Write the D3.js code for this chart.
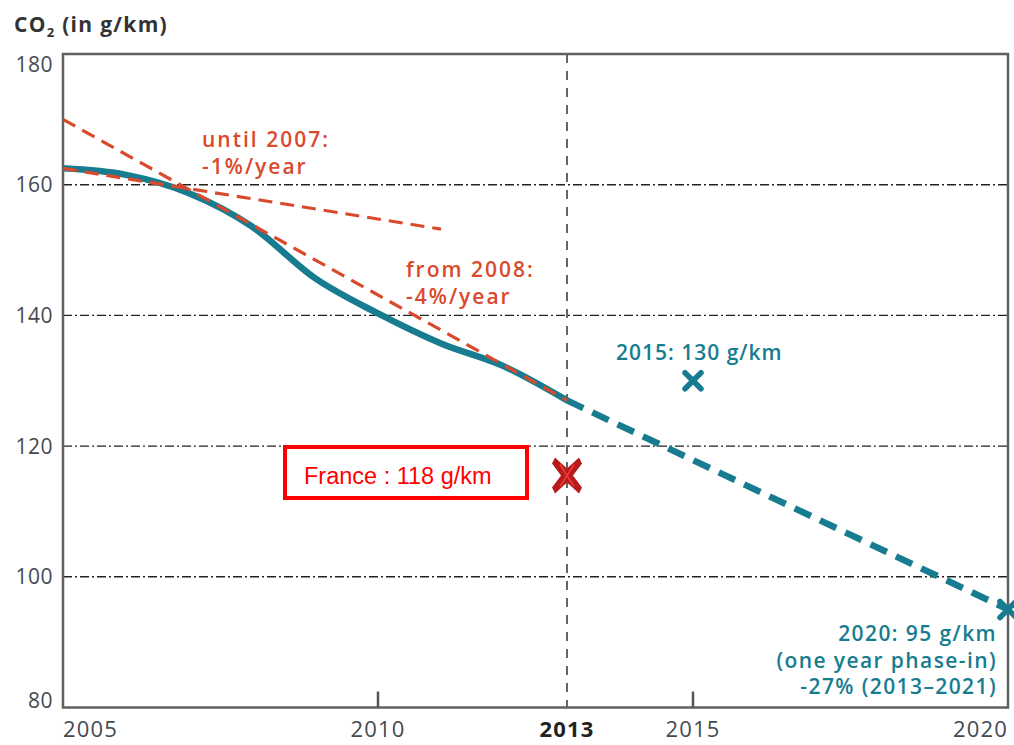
<!DOCTYPE html>
<html>
<head>
<meta charset="utf-8">
<script src="https://cdn.jsdelivr.net/npm/d3@7"></script>
<style>
  body { margin: 0; background: #fff; }
  svg text { font-family: "Open Sans", "DejaVu Sans", sans-serif; }
</style>
</head>
<body>
<svg id="chart"></svg>
<script>
// data
var years      = [2005, 2006, 2007, 2008, 2009, 2010, 2011, 2012, 2013];
var emissions  = [162.5, 161.5, 158.7, 153.6, 145.7, 140.3, 135.7, 132.2, 127.0];
var targetYears = [2013, 2020];
var targetVals  = [127.0, 95.0];
var trendOld   = [[2005, 162.5], [2011, 153.2]];   // until 2007: -1%/year
var trendNew   = [[2005, 170.0], [2013, 127.0]];   // from 2008: -4%/year
var targets    = [[2015, 130], [2020, 95]];
var france     = [2013, 115.5];
var yTicks     = [80, 100, 120, 140, 160, 180];
var gridVals   = [100, 120, 140, 160];
var xTicks     = [2005, 2010, 2013, 2015, 2020];

var W = 1014, H = 745;
var m = {left: 63, right: 1008, top: 54, bottom: 707.5};
var teal = "#187c90", red = "#d94a2c", grey = "#444a50";

var svg = d3.select("#chart").attr("width", W).attr("height", H);

var x = d3.scaleLinear().domain([2005, 2020]).range([m.left, m.right]);
var y = d3.scaleLinear().domain([80, 180]).range([m.bottom, m.top]);

// grid lines (dash-dot)
svg.append("g").selectAll("line").data(gridVals).enter().append("line")
    .attr("x1", m.left).attr("x2", m.right)
    .attr("y1", d => y(d)).attr("y2", d => y(d))
    .attr("stroke", "#222").attr("stroke-width", 1.4)
    .attr("stroke-dasharray", "9,3,2,3");

// 2013 vertical dashed marker
svg.append("line")
    .attr("x1", x(2013)).attr("x2", x(2013))
    .attr("y1", m.top).attr("y2", m.bottom)
    .attr("stroke", "#333").attr("stroke-width", 1.5)
    .attr("stroke-dasharray", "9,8");

// frame
svg.append("rect")
    .attr("x", m.left).attr("y", m.top)
    .attr("width", m.right - m.left).attr("height", m.bottom - m.top)
    .attr("fill", "none").attr("stroke", "#606060").attr("stroke-width", 2.5);

// small ticks on the bottom
svg.append("g").selectAll("line").data([2010, 2015]).enter().append("line")
    .attr("x1", d => x(d)).attr("x2", d => x(d))
    .attr("y1", m.bottom).attr("y2", m.bottom - 16)
    .attr("stroke", "#555").attr("stroke-width", 2.5);

// y labels (kept inside the frame height at the ends)
svg.append("g").selectAll("text").data(yTicks).enter().append("text")
    .attr("x", 53)
    .attr("y", d => Math.min(Math.max(y(d), m.top + 10), m.bottom - 7) + 7.5)
    .attr("text-anchor", "end")
    .attr("font-size", 21).attr("fill", grey)
    .style("letter-spacing", "0.5px")
    .text(d => d);

// x labels
svg.append("g").selectAll("text").data(xTicks).enter().append("text")
    .attr("x", d => x(d))
    .attr("y", 737)
    .attr("text-anchor", (d, i) => i == 0 ? "start" : (i == xTicks.length - 1 ? "end" : "middle"))
    .attr("font-size", 22)
    .attr("font-weight", d => d == 2013 ? 700 : 400)
    .attr("fill", d => d == 2013 ? "#222" : grey)
    .style("letter-spacing", "1.2px")
    .text(d => d);

// title
var title = svg.append("text").attr("x", 14).attr("y", 32)
    .attr("font-size", 21).attr("font-weight", 700).attr("fill", "#333")
    .style("letter-spacing", "1.3px");
title.append("tspan").text("CO");
title.append("tspan").attr("font-size", 13).attr("dy", 5).text("2");
title.append("tspan").attr("dy", -5).text(" (in g/km)");

var line = d3.line().x(d => x(d[0])).y(d => y(d[1]));

// historical line
svg.append("path")
    .datum(d3.zip(years, emissions))
    .attr("d", d3.line().x(d => x(d[0])).y(d => y(d[1])).curve(d3.curveMonotoneX))
    .attr("fill", "none").attr("stroke", teal).attr("stroke-width", 6.5)
    .attr("stroke-linejoin", "round");

// projection
svg.append("path")
    .datum(d3.zip(targetYears, targetVals))
    .attr("d", line)
    .attr("fill", "none").attr("stroke", teal).attr("stroke-width", 6.5)
    .attr("stroke-dasharray", "18,10");

// red trend lines
[trendOld, trendNew].forEach(function(t){
    svg.append("path").datum(t).attr("d", line)
        .attr("fill", "none").attr("stroke", red).attr("stroke-width", 3.2)
        .attr("stroke-dasharray", "14,8");
});

// target crosses
function cross(cx, cy, r, color, w){
    var g = svg.append("g");
    g.append("line").attr("x1", cx - r).attr("y1", cy - r).attr("x2", cx + r).attr("y2", cy + r);
    g.append("line").attr("x1", cx - r).attr("y1", cy + r).attr("x2", cx + r).attr("y2", cy - r);
    g.selectAll("line").attr("stroke", color).attr("stroke-width", w).attr("stroke-linecap", "round");
    return g;
}
targets.forEach(function(t){ cross(x(t[0]), y(t[1]), 8, teal, 5.5); });

// France marker
var fx = x(france[0]), fy = y(france[1]);
var fm = svg.append("g");
fm.append("path")
    .attr("d", "M" + (fx - 12) + "," + (fy - 18) + " L" + fx + "," + (fy - 7) + " L" + (fx + 12) + "," + (fy - 18) +
          " L" + (fx + 15) + "," + (fy - 12) + " L" + (fx + 6) + "," + fy + " L" + (fx + 15) + "," + (fy + 12) +
          " L" + (fx + 12) + "," + (fy + 18) + " L" + fx + "," + (fy + 7) + " L" + (fx - 12) + "," + (fy + 18) +
          " L" + (fx - 15) + "," + (fy + 12) + " L" + (fx - 6) + "," + fy + " L" + (fx - 15) + "," + (fy - 12) + "Z")
    .attr("fill", "#b71c1c");
fm.append("path")
    .attr("d", "M" + (fx - 7) + "," + (fy - 11) + " L" + (fx + 7) + "," + (fy + 11) +
          " M" + (fx + 7) + "," + (fy - 11) + " L" + (fx - 7) + "," + (fy + 11))
    .attr("stroke", "#f03a3a").attr("stroke-width", 1.5).attr("fill", "none");

// annotations
function label(lines, tx, ty, color, anchor, ls){
    var t = svg.append("text").attr("x", tx).attr("y", ty)
        .attr("font-size", 21).attr("font-weight", 600).attr("fill", color)
        .attr("text-anchor", anchor || "start")
        .style("letter-spacing", (ls || 1.6) + "px");
    lines.forEach(function(s, i){
        t.append("tspan").attr("x", tx).attr("dy", i == 0 ? 0 : 26.5).text(s);
    });
}
label(["until 2007:", "-1%/year"], 202, 147, red, "start", 2);
label(["from 2008:", "-4%/year"], 406, 277, red, "start", 2);
label(["2015: 130 g/km"], 616, 360, teal, "start", 1);
label(["2020: 95 g/km", "(one year phase-in)", "-27% (2013\u20132021)"], 997, 641, teal, "end", 1.4);

// France box
svg.append("rect").attr("x", 285).attr("y", 447).attr("width", 242).attr("height", 51)
    .attr("fill", "#fff").attr("stroke", "#ff0000").attr("stroke-width", 4);
svg.append("text").attr("x", 304).attr("y", 484)
    .style("font-family", "'Liberation Sans Narrow', 'Liberation Sans', sans-serif")
    .attr("font-size", 23.5).attr("fill", "#ff0000")
    .text("France : 118 g/km");
</script>
</body>
</html>
